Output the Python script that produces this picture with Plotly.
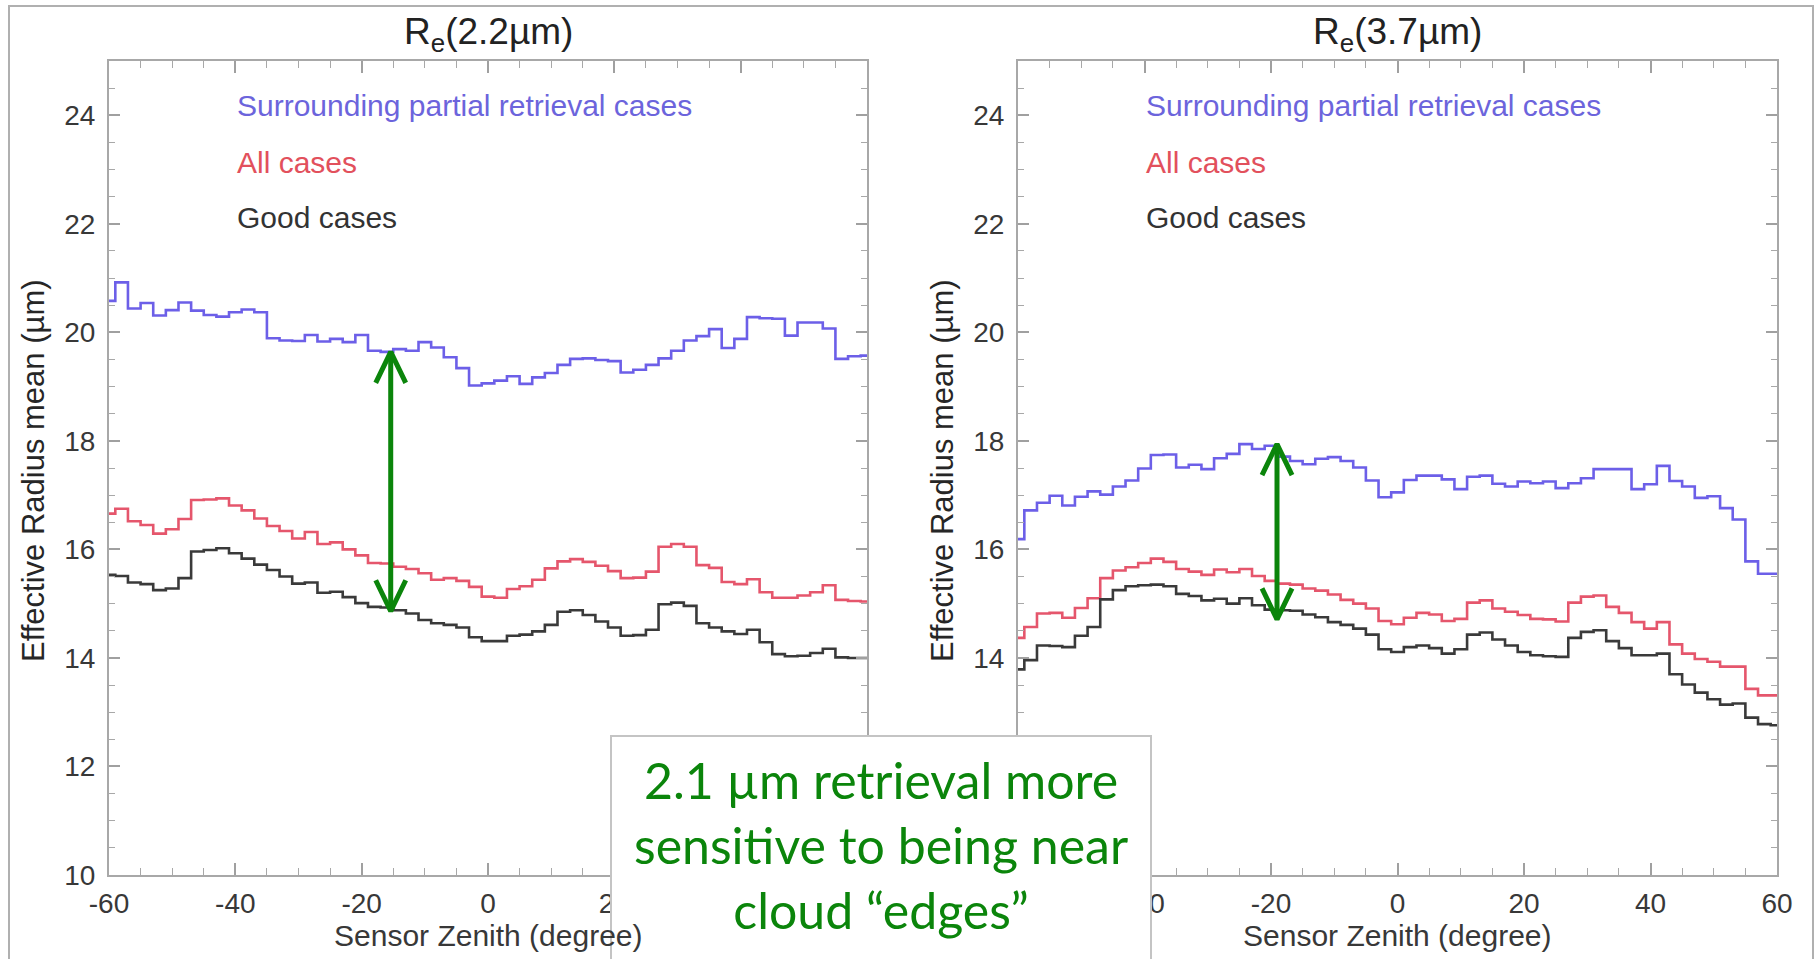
import plotly.graph_objects as go

W, H = 1818, 959

# ---------------- data ----------------
zenith = list(range(-60, 61, 2))

blue_22 = [20.58, 20.92, 20.44, 20.54, 20.31, 20.41, 20.55, 20.40, 20.32, 20.29, 20.37, 20.42, 20.37,
           19.89, 19.85, 19.84, 19.95, 19.83, 19.88, 19.82, 19.95, 19.66, 19.64, 19.69, 19.66, 19.82,
           19.72, 19.54, 19.34, 19.02, 19.06,
           19.11, 19.19, 19.05, 19.17, 19.25, 19.40, 19.51, 19.52, 19.49, 19.47, 19.26, 19.31, 19.40,
           19.52, 19.66, 19.85, 19.93, 20.06, 19.71, 19.88, 20.28, 20.26, 20.25, 19.94, 20.18, 20.18,
           20.07, 19.51, 19.56, 19.57]
red_22 = [16.66, 16.75, 16.52, 16.45, 16.29, 16.37, 16.56, 16.91, 16.92, 16.94, 16.81, 16.72, 16.57,
          16.43, 16.34, 16.20, 16.32, 16.10, 16.13, 16.00, 15.89, 15.75, 15.74, 15.68, 15.64, 15.56,
          15.44, 15.47, 15.42, 15.31, 15.13,
          15.11, 15.27, 15.32, 15.44, 15.65, 15.78, 15.82, 15.77, 15.70, 15.60, 15.47, 15.48, 15.59,
          16.05, 16.10, 16.05, 15.71, 15.66, 15.40, 15.36, 15.45, 15.21, 15.11, 15.11, 15.15, 15.21,
          15.34, 15.07, 15.05, 15.04]
black_22 = [15.53, 15.51, 15.39, 15.36, 15.25, 15.28, 15.47, 15.96, 15.99, 16.02, 15.93, 15.83, 15.72,
            15.62, 15.50, 15.37, 15.39, 15.20, 15.22, 15.12, 15.01, 14.94, 14.93, 14.88, 14.82, 14.70,
            14.64, 14.61, 14.56, 14.38, 14.31,
            14.31, 14.41, 14.43, 14.49, 14.61, 14.85, 14.88, 14.79, 14.67, 14.56, 14.41, 14.42, 14.52,
            14.99, 15.02, 14.96, 14.64, 14.56, 14.49, 14.44, 14.52, 14.29, 14.07, 14.03, 14.04, 14.09,
            14.17, 14.01, 14.00, 14.00]

blue_37 = [16.19, 16.72, 16.86, 16.99, 16.81, 16.97, 17.07, 17.01, 17.16, 17.27, 17.49, 17.74, 17.75,
           17.51, 17.56, 17.48, 17.68, 17.76, 17.94, 17.85, 17.91, 17.71, 17.63, 17.57, 17.67, 17.70,
           17.63, 17.51, 17.27, 16.96, 17.05,
           17.28, 17.36, 17.36, 17.29, 17.11, 17.34, 17.36, 17.21, 17.16, 17.25, 17.22, 17.25, 17.13,
           17.22, 17.31, 17.48, 17.48, 17.48, 17.11, 17.20, 17.54, 17.26, 17.16, 16.95, 16.98, 16.76,
           16.55, 15.78, 15.55, 15.55]
red_37 = [14.37, 14.57, 14.82, 14.83, 14.74, 14.92, 15.10, 15.47, 15.61, 15.67, 15.75, 15.83, 15.77,
          15.64, 15.59, 15.53, 15.63, 15.58, 15.64, 15.51, 15.42, 15.37, 15.35, 15.28, 15.24, 15.17,
          15.07, 15.00, 14.91, 14.68, 14.62,
          14.74, 14.83, 14.80, 14.68, 14.72, 15.02, 15.06, 14.91, 14.85, 14.79, 14.72, 14.71, 14.67,
          15.02, 15.13, 15.15, 14.94, 14.83, 14.66, 14.54, 14.66, 14.25, 14.08, 13.98, 13.93, 13.84,
          13.84, 13.43, 13.31, 13.31]
black_37 = [13.79, 13.96, 14.23, 14.22, 14.20, 14.41, 14.57, 15.08, 15.25, 15.32, 15.34, 15.35, 15.32,
            15.18, 15.14, 15.06, 15.09, 15.00, 15.10, 14.97, 14.89, 14.88, 14.87, 14.80, 14.75, 14.66,
            14.61, 14.54, 14.43, 14.16, 14.11,
            14.20, 14.23, 14.18, 14.08, 14.16, 14.43, 14.47, 14.34, 14.23, 14.11, 14.05, 14.03, 14.02,
            14.37, 14.48, 14.51, 14.31, 14.18, 14.05, 14.05, 14.08, 13.70, 13.51, 13.36, 13.24, 13.14,
            13.16, 12.90, 12.78, 12.76]

panel_titles = ["R<sub>e</sub>(2.2µm)", "R<sub>e</sub>(3.7µm)"]
series_names = ["Surrounding partial retrieval cases", "All cases", "Good cases"]
x_ticks = [-60, -40, -20, 0, 20, 40, 60]
x_ticktext = ["-60", "-40", "-20", "0", "20", "40", "60"]
y_ticks = [10, 12, 14, 16, 18, 20, 22, 24]

# double arrows: (zenith, top value, bottom value) per panel
arrow_left = (-15.4, 19.64, 14.86)
arrow_right = (-19.05, 17.94, 14.71)

note_text = "2.1 µm retrieval more<br>sensitive to being near<br>cloud “edges”"

# ---------------- style ----------------
BLUE = "#6c5fe8"
RED = "#e5566c"
BLACK = "#3a3a3a"
BLUE_TXT = "#6c64dc"
RED_TXT = "#e2505c"
GREEN = "#0b850b"
FONT = "Liberation Sans, Arial, Helvetica, sans-serif"
XR = [-60, 60]
YR = [10, 25]

# plot area in px
L1, R1 = 109, 867
L2, R2 = 1018, 1777
TOP, BOT = 61, 875

fig = go.Figure()

panels = [
    ("x", "y", [blue_22, red_22, black_22], arrow_left, L1, R1),
    ("x2", "y2", [blue_37, red_37, black_37], arrow_right, L2, R2),
]
colors = [BLUE, RED, BLACK]

for xa, ya, series, arrow, L, R in panels:
    for vals, col, name in zip(series, colors, series_names):
        fig.add_trace(go.Scatter(x=zenith, y=vals, mode="lines", line=dict(color=col, width=2.6, shape="hvh"),
                                 name=name, showlegend=False, xaxis=xa, yaxis=ya))
    # double-headed arrow (open chevrons)
    ax, atop, abot = arrow
    pxu = (R - L) / (XR[1] - XR[0])
    pyu = (BOT - TOP) / (YR[1] - YR[0])
    hdx = 15 / pxu
    hdy = 31 / pyu
    xs = [ax, ax, None, ax - hdx, ax, ax + hdx, None, ax - hdx, ax, ax + hdx]
    ys = [atop, abot, None, atop - hdy, atop, atop - hdy, None, abot + hdy, abot, abot + hdy]
    fig.add_trace(go.Scatter(x=xs, y=ys, mode="lines", line=dict(color=GREEN, width=5),
                             showlegend=False, xaxis=xa, yaxis=ya, hoverinfo="skip"))

axis_common = dict(
    showline=True, linecolor="#a8a8a8", linewidth=2, mirror="ticks",
    ticks="inside", tickcolor="#a0a0a0", tickwidth=1.5,
    showgrid=False, zeroline=False, automargin=False,
    tickfont=dict(family=FONT, size=28, color="#383838"),
)

xcommon = dict(axis_common, range=XR, tickvals=x_ticks, ticktext=x_ticktext, ticklen=12,
               minor=dict(dtick=5, tick0=-60, ticks="inside", ticklen=7, tickcolor="#a8a8a8", tickwidth=1.2),
               ticklabelstandoff=2)
ycommon = dict(axis_common, range=YR, tickvals=y_ticks, ticklen=11,
               minor=dict(dtick=0.5, tick0=10, ticks="inside", ticklen=6, tickcolor="#a8a8a8", tickwidth=1.2),
               ticklabelstandoff=6)

yd = [1 - BOT / H, 1 - TOP / H]
fig.update_layout(
    width=W, height=H,
    margin=dict(l=0, r=0, t=0, b=0, autoexpand=False),
    paper_bgcolor="white", plot_bgcolor="white",
    showlegend=False,
    xaxis=dict(xcommon, domain=[L1 / W, R1 / W], anchor="y"),
    yaxis=dict(ycommon, domain=yd, anchor="x"),
    xaxis2=dict(xcommon, domain=[L2 / W, R2 / W], anchor="y2"),
    yaxis2=dict(ycommon, domain=yd, anchor="x2"),
)

annotations = []
for i, (L, R) in enumerate([(L1, R1), (L2, R2)]):
    sfx = "" if i == 0 else "2"
    cx = (L + R) / 2 / W
    annotations.append(dict(xref="paper", yref="paper", x=cx, y=1 - 34 / H, xanchor="center", yanchor="middle",
                            text=panel_titles[i], showarrow=False,
                            font=dict(family=FONT, size=37, color="#222222")))
    annotations.append(dict(xref="paper", yref="paper", x=cx, y=1 - 935 / H, xanchor="center", yanchor="middle",
                            text="Sensor Zenith (degree)", showarrow=False,
                            font=dict(family=FONT, size=30, color="#383838")))
    annotations.append(dict(xref="paper", yref="paper", x=(L - 75) / W, y=1 - 471 / H, xanchor="center",
                            yanchor="middle", textangle=-90, text="Effective Radius mean (µm)", showarrow=False,
                            font=dict(family=FONT, size=31, color="#262626")))
    for name, col, yy in zip(series_names, [BLUE_TXT, RED_TXT, "#333333"], [105, 162, 217]):
        annotations.append(dict(xref="x%s domain" % sfx, yref="y%s domain" % sfx,
                                x=126 / (R - L), y=(BOT - yy) / (BOT - TOP), xanchor="left", yanchor="middle",
                                text=name, showarrow=False, font=dict(family=FONT, size=30, color=col)))

# note text (box drawn as a shape below)
annotations.append(dict(xref="paper", yref="paper", x=881 / W, y=1 - 845 / H, xanchor="center", yanchor="middle",
                        text=note_text, showarrow=False, align="center",
                        font=dict(family="Lato, Carlito, Calibri, sans-serif", size=50, color=GREEN)))
fig.update_layout(annotations=annotations)

# note box: white, covers tick labels, runs off the bottom of the page
fig.add_shape(type="rect", xref="paper", yref="paper", x0=611 / W, x1=1151 / W, y0=-0.05, y1=1 - 736 / H,
              line=dict(color="#c4c4c4", width=2), fillcolor="white", layer="above")

# outer slide frame
fig.add_shape(type="rect", xref="paper", yref="paper", x0=9 / W, x1=1813 / W, y0=-0.05, y1=1 - 6 / H,
              line=dict(color="#b0b0b0", width=2), fillcolor="rgba(0,0,0,0)", layer="below")

fig.write_html("out.html")
